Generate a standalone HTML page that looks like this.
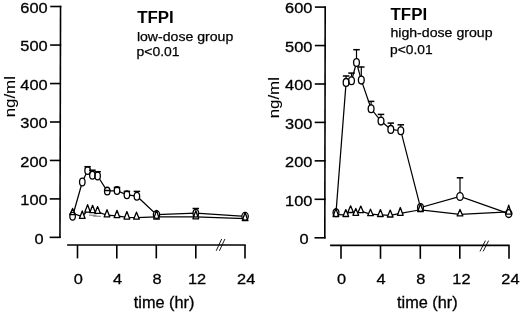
<!DOCTYPE html>
<html><head><meta charset="utf-8"><title>TFPI</title>
<style>
html,body{margin:0;padding:0;background:#fff;}
svg{display:block;font-family:"Liberation Sans",Arial,Helvetica,sans-serif;}
.ax{stroke:#000;stroke-width:1.6;fill:none;}
.bk{stroke:#000;stroke-width:0.9;fill:none;}
.ln{stroke:#000;stroke-width:1.25;fill:none;}
.eb path{stroke:#000;stroke-width:1.2;fill:none;}
.cp path{stroke:#000;stroke-width:1.5;fill:none;}
.fil *{stroke:none;fill:#fff;}
.sym *{stroke:#000;stroke-width:1.3;fill:none;stroke-linejoin:round;}
.tk{font-size:16px;fill:#000;stroke:#000;stroke-width:0.3px;}
.tl{font-size:15.1px;fill:#000;stroke:#000;stroke-width:0.3px;}
.tt{font-size:15.8px;font-weight:bold;fill:#000;}
.sm{font-size:14px;fill:#000;stroke:#000;stroke-width:0.25px;}
</style></head><body>
<svg width="520" height="313" viewBox="0 0 520 313">
<rect width="520" height="313" fill="#fff"/>
<path class="ax" d="M60.55,5.8L59.95,238.04999999999998"/>
<path class="ax" d="M50.25,6.5H61.30"/>
<path class="ax" d="M50.15,45.05H61.20"/>
<path class="ax" d="M50.05,83.55H61.10"/>
<path class="ax" d="M49.95,122.0H61.00"/>
<path class="ax" d="M49.85,160.45H60.90"/>
<path class="ax" d="M49.75,198.9H60.80"/>
<path class="ax" d="M49.65,237.35H60.70"/>
<text class="tl" textLength="27.3" lengthAdjust="spacingAndGlyphs" text-anchor="end" x="47.6" y="12.8">600</text>
<text class="tl" textLength="27.3" lengthAdjust="spacingAndGlyphs" text-anchor="end" x="47.6" y="51.3">500</text>
<text class="tl" textLength="27.3" lengthAdjust="spacingAndGlyphs" text-anchor="end" x="47.6" y="89.8">400</text>
<text class="tl" textLength="27.3" lengthAdjust="spacingAndGlyphs" text-anchor="end" x="47.6" y="128.3">300</text>
<text class="tl" textLength="27.3" lengthAdjust="spacingAndGlyphs" text-anchor="end" x="47.6" y="166.8">200</text>
<text class="tl" textLength="27.3" lengthAdjust="spacingAndGlyphs" text-anchor="end" x="47.6" y="205.2">100</text>
<text class="tl" textLength="9.1" lengthAdjust="spacingAndGlyphs" text-anchor="end" x="43.7" y="243.7">0</text>
<path class="ax" d="M67.1,245.0H245.7"/>
<path class="ax" d="M77.5,245.0V258.4"/>
<path class="ax" d="M116.8,245.0V258.4"/>
<path class="ax" d="M156.3,245.0V258.4"/>
<path class="ax" d="M195.8,245.0V258.4"/>
<path class="ax" d="M245,245.0V258.4"/>
<text class="tl" textLength="9.1" lengthAdjust="spacingAndGlyphs" text-anchor="middle" x="78.3" y="284.0">0</text>
<text class="tl" textLength="9.1" lengthAdjust="spacingAndGlyphs" text-anchor="middle" x="117.6" y="284.0">4</text>
<text class="tl" textLength="9.1" lengthAdjust="spacingAndGlyphs" text-anchor="middle" x="157" y="284.0">8</text>
<text class="tl" textLength="18.2" lengthAdjust="spacingAndGlyphs" text-anchor="middle" x="197.1" y="284.0">12</text>
<text class="tl" textLength="18.2" lengthAdjust="spacingAndGlyphs" text-anchor="middle" x="246.2" y="284.0">24</text>
<path class="bk" d="M216.2,250.8L221.70000000000002,239.0M219.39999999999998,250.8L224.9,239.0"/>
<path class="ax" d="M325.2,6.3999999999999995L324.8,238.5"/>
<path class="ax" d="M314.90,7.1H325.95"/>
<path class="ax" d="M314.83,45.55H325.88"/>
<path class="ax" d="M314.77,84H325.82"/>
<path class="ax" d="M314.70,122.4H325.75"/>
<path class="ax" d="M314.63,160.85H325.68"/>
<path class="ax" d="M314.57,199.3H325.62"/>
<path class="ax" d="M314.50,237.8H325.55"/>
<text class="tl" textLength="27.3" lengthAdjust="spacingAndGlyphs" text-anchor="end" x="312.4" y="13.4">600</text>
<text class="tl" textLength="27.3" lengthAdjust="spacingAndGlyphs" text-anchor="end" x="312.4" y="51.8">500</text>
<text class="tl" textLength="27.3" lengthAdjust="spacingAndGlyphs" text-anchor="end" x="312.4" y="90.3">400</text>
<text class="tl" textLength="27.3" lengthAdjust="spacingAndGlyphs" text-anchor="end" x="312.4" y="128.7">300</text>
<text class="tl" textLength="27.3" lengthAdjust="spacingAndGlyphs" text-anchor="end" x="312.4" y="167.2">200</text>
<text class="tl" textLength="27.3" lengthAdjust="spacingAndGlyphs" text-anchor="end" x="312.4" y="205.6">100</text>
<text class="tl" textLength="9.1" lengthAdjust="spacingAndGlyphs" text-anchor="end" x="308.5" y="244.1">0</text>
<path class="ax" d="M330.1,245.4H509.7"/>
<path class="ax" d="M341.0,245.4V258.8"/>
<path class="ax" d="M380.5,245.4V258.8"/>
<path class="ax" d="M420.3,245.4V258.8"/>
<path class="ax" d="M459.8,245.4V258.8"/>
<path class="ax" d="M509,245.4V258.8"/>
<text class="tl" textLength="9.1" lengthAdjust="spacingAndGlyphs" text-anchor="middle" x="341.5" y="284.4">0</text>
<text class="tl" textLength="9.1" lengthAdjust="spacingAndGlyphs" text-anchor="middle" x="381" y="284.4">4</text>
<text class="tl" textLength="9.1" lengthAdjust="spacingAndGlyphs" text-anchor="middle" x="420.8" y="284.4">8</text>
<text class="tl" textLength="18.2" lengthAdjust="spacingAndGlyphs" text-anchor="middle" x="461.4" y="284.4">12</text>
<text class="tl" textLength="18.2" lengthAdjust="spacingAndGlyphs" text-anchor="middle" x="510.4" y="284.4">24</text>
<path class="bk" d="M480,251.4L485.40000000000003,240.6M483.2,251.4L488.6,240.6"/>
<path d="M89,215.2H96.5M93,216.1L101,216.3" stroke="#666" stroke-width="0.9" fill="none"/>
<polyline class="ln" points="72.6,213.25 82.25,216.65 87.6,210.40 92.6,210.93 97.6,211.83 107,215.22 117,215.93 126.9,217.30 136.5,217.54 156.5,216.94 195.8,216.83 245.1,218.70"/>
<polyline class="ln" points="72.6,216.25 82.3,182.0 87.6,170.6 92.4,175.25 97.6,176 107.25,191.1 117,190.6 126.9,194.8 136.9,196.2 156.5,214.6 195.8,213.2 245.1,216.3"/>
<g class="eb">
<path d="M87.6,170.6V166.5"/>
<path d="M92.4,175.25V170"/>
<path d="M97.6,176V171.5"/>
<path d="M107.25,191.1V190.3"/>
<path d="M117,190.6V187.2"/>
<path d="M126.9,194.8V191.2"/>
<path d="M136.9,196.2V191.2"/>
<path d="M195.8,213.2V208.3"/>
</g>
<g class="fil">
<polygon points="72.6,208.45 75.44999999999999,214.7 69.75,214.7"/>
<polygon points="82.25,210.95 85.1,218.45 79.4,218.45"/>
<polygon points="87.6,204.7 90.44999999999999,212.2 84.75,212.2"/>
<polygon points="92.6,205.29999999999998 95.44999999999999,212.7 89.75,212.7"/>
<polygon points="97.6,206.6 100.44999999999999,213.45 94.75,213.45"/>
<polygon points="107,209.7 109.85,216.95 104.15,216.95"/>
<polygon points="117,210.29999999999998 119.85,217.7 114.15,217.7"/>
<polygon points="126.9,211.6 129.75,219.1 124.05000000000001,219.1"/>
<polygon points="136.5,212.2 139.35,219.2 133.65,219.2"/>
<polygon points="156.5,210.29999999999998 159.35,219.1 153.65,219.1"/>
<polygon points="195.8,210.7 198.65,218.79999999999998 192.95000000000002,218.79999999999998"/>
<polygon points="245.1,212.5 247.95,220.7 242.25,220.7"/>
<ellipse cx="72.6" cy="216.25" rx="2.75" ry="3.85"/>
<ellipse cx="82.3" cy="182.0" rx="2.75" ry="3.85"/>
<ellipse cx="87.6" cy="170.6" rx="2.75" ry="3.85"/>
<ellipse cx="92.4" cy="175.25" rx="2.75" ry="3.85"/>
<ellipse cx="97.6" cy="176" rx="2.75" ry="3.85"/>
<ellipse cx="107.25" cy="191.1" rx="2.75" ry="3.85"/>
<ellipse cx="117" cy="190.6" rx="2.75" ry="3.85"/>
<ellipse cx="126.9" cy="194.8" rx="2.75" ry="3.85"/>
<ellipse cx="136.9" cy="196.2" rx="2.75" ry="3.85"/>
<ellipse cx="156.5" cy="214.6" rx="3.15" ry="3.85"/>
<ellipse cx="195.8" cy="213.2" rx="2.75" ry="3.85"/>
<ellipse cx="245.1" cy="216.3" rx="3.2" ry="3.85"/>
</g>
<g class="cp">
<path d="M84.35,166.7H90.85"/>
<path d="M89.15,170.2H95.65"/>
<path d="M94.35,171.7H100.85"/>
<path d="M104.0,190.5H110.5"/>
<path d="M113.75,187.39999999999998H120.25"/>
<path d="M123.65,191.39999999999998H130.15"/>
<path d="M133.65,191.39999999999998H140.15"/>
<path d="M192.55,208.5H199.05"/>
</g>
<g class="sym">
<polygon points="72.6,208.45 75.44999999999999,214.7 69.75,214.7"/>
<polygon points="82.25,210.95 85.1,218.45 79.4,218.45"/>
<polygon points="87.6,204.7 90.44999999999999,212.2 84.75,212.2"/>
<polygon points="92.6,205.29999999999998 95.44999999999999,212.7 89.75,212.7"/>
<polygon points="97.6,206.6 100.44999999999999,213.45 94.75,213.45"/>
<polygon points="107,209.7 109.85,216.95 104.15,216.95"/>
<polygon points="117,210.29999999999998 119.85,217.7 114.15,217.7"/>
<polygon points="126.9,211.6 129.75,219.1 124.05000000000001,219.1"/>
<polygon points="136.5,212.2 139.35,219.2 133.65,219.2"/>
<polygon points="156.5,210.29999999999998 159.35,219.1 153.65,219.1"/>
<polygon points="195.8,210.7 198.65,218.79999999999998 192.95000000000002,218.79999999999998"/>
<polygon points="245.1,212.5 247.95,220.7 242.25,220.7"/>
<ellipse cx="72.6" cy="216.25" rx="2.75" ry="3.85"/>
<ellipse cx="82.3" cy="182.0" rx="2.75" ry="3.85"/>
<ellipse cx="87.6" cy="170.6" rx="2.75" ry="3.85"/>
<ellipse cx="92.4" cy="175.25" rx="2.75" ry="3.85"/>
<ellipse cx="97.6" cy="176" rx="2.75" ry="3.85"/>
<ellipse cx="107.25" cy="191.1" rx="2.75" ry="3.85"/>
<ellipse cx="117" cy="190.6" rx="2.75" ry="3.85"/>
<ellipse cx="126.9" cy="194.8" rx="2.75" ry="3.85"/>
<ellipse cx="136.9" cy="196.2" rx="2.75" ry="3.85"/>
<ellipse cx="156.5" cy="214.6" rx="3.15" ry="3.85"/>
<ellipse cx="195.8" cy="213.2" rx="2.75" ry="3.85"/>
<ellipse cx="245.1" cy="216.3" rx="3.2" ry="3.85"/>
</g>
<polyline class="ln" points="335.9,214.60 345.8,214.87 350.6,210.92 355.8,213.67 360.8,211.15 370.5,214.18 380.4,214.87 390.2,215.37 400.3,213.42 420.5,209.76 460,214.38 508.7,211.91"/>
<polyline class="ln" points="336,212.7 346.1,82.4 351.5,80.7 356.5,62.5 361.3,80.1 371.1,108.8 381,121.1 390.8,129.4 400.8,130.7 420.5,207.6 460,196.5 508.7,213.6"/>
<g class="eb">
<path d="M346.1,82.4V75.8"/>
<path d="M351.5,80.7V72.9"/>
<path d="M356.5,62.5V49.5"/>
<path d="M361.3,80.1V66.8"/>
<path d="M371.1,108.8V101.2"/>
<path d="M381,121.1V114.2"/>
<path d="M390.8,129.4V122.9"/>
<path d="M400.8,130.7V124.6"/>
<path d="M460,196.5V177.6"/>
</g>
<g class="fil">
<polygon points="335.9,208.39999999999998 338.75,216.6 333.04999999999995,216.6"/>
<polygon points="345.8,209.6 348.65000000000003,216.5 342.95,216.5"/>
<polygon points="350.6,205.79999999999998 353.45000000000005,212.5 347.75,212.5"/>
<polygon points="355.8,208.39999999999998 358.65000000000003,215.29999999999998 352.95,215.29999999999998"/>
<polygon points="360.8,206.1 363.65000000000003,212.7 357.95,212.7"/>
<polygon points="370.5,209.2 373.35,215.7 367.65,215.7"/>
<polygon points="380.4,209.6 383.25,216.5 377.54999999999995,216.5"/>
<polygon points="390.2,210.1 393.05,217.0 387.34999999999997,217.0"/>
<polygon points="400.3,207.5 403.15000000000003,215.29999999999998 397.45,215.29999999999998"/>
<polygon points="420.5,203.7 423.35,211.7 417.65,211.7"/>
<polygon points="460,209.39999999999998 462.85,215.89999999999998 457.15,215.89999999999998"/>
<polygon points="508.7,205.2 511.55,214.1 505.84999999999997,214.1"/>
<ellipse cx="336" cy="212.7" rx="2.9" ry="3.9"/>
<ellipse cx="346.1" cy="82.4" rx="2.9" ry="3.9"/>
<ellipse cx="351.5" cy="80.7" rx="2.9" ry="3.9"/>
<ellipse cx="356.5" cy="62.5" rx="2.9" ry="3.9"/>
<ellipse cx="361.3" cy="80.1" rx="2.9" ry="3.9"/>
<ellipse cx="371.1" cy="108.8" rx="2.9" ry="3.9"/>
<ellipse cx="381" cy="121.1" rx="2.9" ry="3.9"/>
<ellipse cx="390.8" cy="129.4" rx="2.9" ry="3.9"/>
<ellipse cx="400.8" cy="130.7" rx="2.9" ry="3.9"/>
<ellipse cx="420.5" cy="207.6" rx="2.9" ry="3.9"/>
<ellipse cx="460" cy="196.5" rx="3.1999999999999997" ry="3.9"/>
<ellipse cx="508.7" cy="213.6" rx="3.1999999999999997" ry="3.9"/>
</g>
<g class="cp">
<path d="M342.85,76.0H349.35"/>
<path d="M348.25,73.10000000000001H354.75"/>
<path d="M353.25,49.7H359.75"/>
<path d="M358.05,67.0H364.55"/>
<path d="M367.85,101.4H374.35"/>
<path d="M377.75,114.4H384.25"/>
<path d="M387.55,123.10000000000001H394.05"/>
<path d="M397.55,124.8H404.05"/>
<path d="M456.75,177.79999999999998H463.25"/>
</g>
<g class="sym">
<polygon points="335.9,208.39999999999998 338.75,216.6 333.04999999999995,216.6"/>
<polygon points="345.8,209.6 348.65000000000003,216.5 342.95,216.5"/>
<polygon points="350.6,205.79999999999998 353.45000000000005,212.5 347.75,212.5"/>
<polygon points="355.8,208.39999999999998 358.65000000000003,215.29999999999998 352.95,215.29999999999998"/>
<polygon points="360.8,206.1 363.65000000000003,212.7 357.95,212.7"/>
<polygon points="370.5,209.2 373.35,215.7 367.65,215.7"/>
<polygon points="380.4,209.6 383.25,216.5 377.54999999999995,216.5"/>
<polygon points="390.2,210.1 393.05,217.0 387.34999999999997,217.0"/>
<polygon points="400.3,207.5 403.15000000000003,215.29999999999998 397.45,215.29999999999998"/>
<polygon points="420.5,203.7 423.35,211.7 417.65,211.7"/>
<polygon points="460,209.39999999999998 462.85,215.89999999999998 457.15,215.89999999999998"/>
<polygon points="508.7,205.2 511.55,214.1 505.84999999999997,214.1"/>
<ellipse cx="336" cy="212.7" rx="2.9" ry="3.9"/>
<ellipse cx="346.1" cy="82.4" rx="2.9" ry="3.9"/>
<ellipse cx="351.5" cy="80.7" rx="2.9" ry="3.9"/>
<ellipse cx="356.5" cy="62.5" rx="2.9" ry="3.9"/>
<ellipse cx="361.3" cy="80.1" rx="2.9" ry="3.9"/>
<ellipse cx="371.1" cy="108.8" rx="2.9" ry="3.9"/>
<ellipse cx="381" cy="121.1" rx="2.9" ry="3.9"/>
<ellipse cx="390.8" cy="129.4" rx="2.9" ry="3.9"/>
<ellipse cx="400.8" cy="130.7" rx="2.9" ry="3.9"/>
<ellipse cx="420.5" cy="207.6" rx="2.9" ry="3.9"/>
<ellipse cx="460" cy="196.5" rx="3.1999999999999997" ry="3.9"/>
<ellipse cx="508.7" cy="213.6" rx="3.1999999999999997" ry="3.9"/>
</g>
<text class="tk" style="font-size:14.2px;stroke-width:0.1px" text-anchor="middle" textLength="41.2" lengthAdjust="spacingAndGlyphs" transform="translate(14.8,96.7) rotate(-90)">ng/ml</text>
<text class="tk" style="font-size:14.2px;stroke-width:0.1px" text-anchor="middle" textLength="41.2" lengthAdjust="spacingAndGlyphs" transform="translate(278.5,97.7) rotate(-90)">ng/ml</text>
<text class="tk" textLength="60.6" lengthAdjust="spacingAndGlyphs" x="133.8" y="307.8">time (hr)</text>
<text class="tk" textLength="60.6" lengthAdjust="spacingAndGlyphs" x="397" y="308.3">time (hr)</text>
<text class="tt" textLength="36.6" lengthAdjust="spacingAndGlyphs" x="137.2" y="23.1">TFPI</text>
<text class="sm" style="font-size:13.6px" textLength="96.4" lengthAdjust="spacingAndGlyphs" x="136.9" y="40.6">low-dose group</text>
<text class="sm" style="font-size:13px" textLength="43.0" lengthAdjust="spacingAndGlyphs" x="136.5" y="56.2">p&lt;0.01</text>
<text class="tt" textLength="36.6" lengthAdjust="spacingAndGlyphs" x="390.5" y="20.3">TFPI</text>
<text class="sm" style="font-size:13.4px" textLength="102.2" lengthAdjust="spacingAndGlyphs" x="390.4" y="37.4">high-dose group</text>
<text class="sm" style="font-size:13px" textLength="42.5" lengthAdjust="spacingAndGlyphs" x="390.1" y="53.7">p&lt;0.01</text>
</svg>
</body></html>
